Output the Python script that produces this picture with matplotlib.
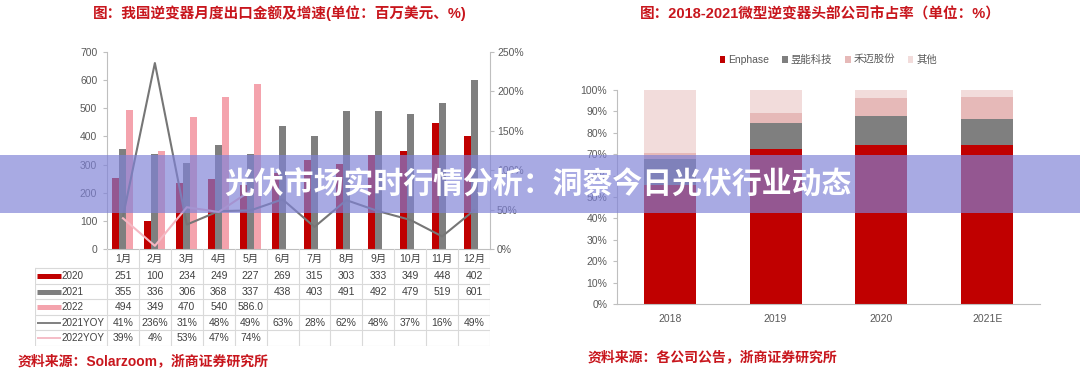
"""逆变器出口金额与微型逆变器市占率，两图并排，加横幅标题。"""

import matplotlib.pyplot as plt
import numpy as np
from matplotlib.patches import Rectangle
from matplotlib.ticker import FuncFormatter

plt.rcParams['font.family'] = ['Liberation Sans', 'Noto Sans CJK SC', 'DejaVu Sans']

# ---- 左图数据：月度出口金额（百万美元）及同比 ----
months = ['1月', '2月', '3月', '4月', '5月', '6月', '7月', '8月', '9月', '10月', '11月', '12月']
exp_2020 = [251, 100, 234, 249, 227, 269, 315, 303, 333, 349, 448, 402]
exp_2021 = [355, 336, 306, 368, 337, 438, 403, 491, 492, 479, 519, 601]
exp_2022 = [494, 349, 470, 540, 586.0]
yoy_2021 = [41, 236, 31, 48, 49, 63, 28, 62, 48, 37, 16, 49]
yoy_2022 = [39, 4, 53, 47, 74]

# ---- 右图数据：微型逆变器市占率（%） ----
years = ['2018', '2019', '2020', '2021E']
share_enphase = [55.6, 72.6, 74.3, 74.3]
share_apsystems = [12.0, 11.8, 13.6, 12.3]
share_hoymiles = [2.9, 5.0, 8.5, 10.3]
share_other = [29.5, 10.6, 3.6, 3.1]
share_names = ['Enphase', '昱能科技', '禾迈股份', '其他']

RED = '#c00000'
GREY = '#7f7f7f'
PINK = '#f4a3ad'
LINE_GREY = '#767676'
LINE_PINK = '#f5b8c3'
HOY_PINK = '#e6b9b8'
OTHER_PINK = '#f2dcdb'
TITLE_RED = '#c8161d'
SPINE = '#bfbfbf'
TICK_TXT = '#595959'
TABLE_LINE = '#d9d9d9'

W, H = 1080, 369
fig = plt.figure(figsize=(W / 100, H / 100), dpi=100)


def px_box(x0, y0, x1, y1):
    return [x0 / W, 1 - y1 / H, (x1 - x0) / W, (y1 - y0) / H]


# ================= 左图 =================
ax = fig.add_axes(px_box(107, 52, 490, 249))
x = np.arange(len(months))
bw = 0.22
ax.bar(x - bw, exp_2020, bw, color=RED)
ax.bar(x, exp_2021, bw, color=GREY)
ax.bar(x[:len(exp_2022)] + bw, exp_2022, bw, color=PINK)
ax.set_xlim(-0.5, 11.5)
ax.set_ylim(0, 700)
ax.set_yticks(range(0, 701, 100))
ax.set_xticks([])
for s in ('top', 'right'):
    ax.spines[s].set_visible(False)
for s in ('left', 'bottom'):
    ax.spines[s].set_color(SPINE)
ax.tick_params(axis='y', length=3, color=SPINE, labelcolor=TICK_TXT, labelsize=7.5, pad=4)

ax2 = ax.twinx()
ax2.plot(x, yoy_2021, color=LINE_GREY, lw=1.5)
ax2.plot(x[:len(yoy_2022)], yoy_2022, color=LINE_PINK, lw=1.5)
ax2.set_ylim(0, 250)
ax2.set_yticks(range(0, 251, 50))
ax2.yaxis.set_major_formatter(FuncFormatter(lambda v, _: f'{v:.0f}%'))
for s in ('top', 'left', 'bottom'):
    ax2.spines[s].set_visible(False)
ax2.spines['right'].set_color(SPINE)
ax2.tick_params(axis='y', length=3, color=SPINE, labelcolor=TICK_TXT, labelsize=7.5, pad=2)

# 数据表
tab = fig.add_axes(px_box(35, 249, 490, 346))
col_w = 383 / 12
left_edge = -0.5 - (107 - 35) / col_w
tab.set_xlim(left_edge, 11.5)
tab.set_ylim(97, 0)
tab.axis('off')
header_h = 19.3
row_h = (97 - header_h) / 5
bounds = [header_h + i * row_h for i in range(6)]

for xb in np.arange(-0.5, 12, 1):
    tab.plot([xb, xb], [0, 97], color=TABLE_LINE, lw=0.8)
tab.plot([left_edge, left_edge], [header_h, 97], color=TABLE_LINE, lw=0.8)
for yb in bounds:
    tab.plot([left_edge, 11.5], [yb, yb], color=TABLE_LINE, lw=0.8)

for i, m in enumerate(months):
    tab.text(i, header_h / 2, m, ha='center', va='center', fontsize=7.5, color='#404040')

rows = [
    ('2020', [str(v) for v in exp_2020], 'bar', RED),
    ('2021', [str(v) for v in exp_2021], 'bar', GREY),
    ('2022', [str(v) for v in exp_2022], 'bar', PINK),
    ('2021YOY', [f'{v}%' for v in yoy_2021], 'line', LINE_GREY),
    ('2022YOY', [f'{v}%' for v in yoy_2022], 'line', LINE_PINK),
]
sw0 = left_edge + (37 - 35) / col_w
sw1 = left_edge + (61 - 35) / col_w
for r, (name, labels, kind, color) in enumerate(rows):
    yc = bounds[r] + row_h / 2
    lw = 3.6 if kind == 'bar' else 1.3
    tab.plot([sw0, sw1], [yc, yc], color=color, lw=lw, solid_capstyle='butt')
    tab.text(sw1 + 0.03, yc, name, ha='left', va='center', fontsize=7.1, color='#404040')
    for i, lab in enumerate(labels):
        tab.text(i, yc, lab, ha='center', va='center', fontsize=7.5, color='#404040')

fig.text(280 / W, 1 - 13 / H, '图：我国逆变器月度出口金额及增速(单位：百万美元、%)',
         ha='center', va='center', fontsize=10.5, fontweight='bold', color=TITLE_RED)
fig.text(18 / W, 1 - 361 / H, '资料来源：Solarzoom，浙商证券研究所',
         ha='left', va='center', fontsize=10, fontweight='bold', color=TITLE_RED)

# ================= 右图 =================
ax3 = fig.add_axes(px_box(617, 90, 1040, 304))
xr = np.arange(len(years))
bw3 = 0.49
bottom = np.zeros(len(years))
for vals, color, name in zip([share_enphase, share_apsystems, share_hoymiles, share_other],
                             [RED, GREY, HOY_PINK, OTHER_PINK], share_names):
    ax3.bar(xr, vals, bw3, bottom=bottom, color=color, label=name)
    bottom += np.array(vals)
ax3.set_xlim(-0.5, 3.5)
ax3.set_ylim(0, 100)
ax3.set_yticks(range(0, 101, 10))
ax3.yaxis.set_major_formatter(FuncFormatter(lambda v, _: f'{v:.0f}%'))
ax3.set_xticks(xr)
ax3.set_xticklabels(years)
for s in ('top', 'right'):
    ax3.spines[s].set_visible(False)
for s in ('left', 'bottom'):
    ax3.spines[s].set_color(SPINE)
ax3.tick_params(axis='y', length=3, color=SPINE, labelcolor=TICK_TXT, labelsize=7.5, pad=4)
ax3.tick_params(axis='x', length=0, labelcolor=TICK_TXT, labelsize=7.5, pad=7)
ax3.legend(loc='center', bbox_to_anchor=(0.5, (304 - 60) / 214), ncol=4, frameon=False,
           fontsize=7.5, handlelength=0.55, handleheight=0.55, handletextpad=0.3,
           columnspacing=1.2, labelcolor=TICK_TXT)

fig.text(820 / W, 1 - 14 / H, '图：2018-2021微型逆变器头部公司市占率（单位：%）',
         ha='center', va='center', fontsize=10.5, fontweight='bold', color=TITLE_RED)
fig.text(588 / W, 1 - 357 / H, '资料来源：各公司公告，浙商证券研究所',
         ha='left', va='center', fontsize=10, fontweight='bold', color=TITLE_RED)

# ================= 横幅 =================
fig.add_artist(Rectangle((0, 1 - 213 / H), 1, 58 / H, transform=fig.transFigure,
                         facecolor='#7f82d7', edgecolor='none', alpha=0.68, zorder=10))
fig.text(538 / W, 1 - 185 / H, '光伏市场实时行情分析：洞察今日光伏行业动态',
         ha='center', va='center', fontsize=21.5, fontweight='bold', color='white',
         family=['Noto Sans CJK SC', 'DejaVu Sans'], zorder=11)

fig.savefig('out.png', dpi=100)
